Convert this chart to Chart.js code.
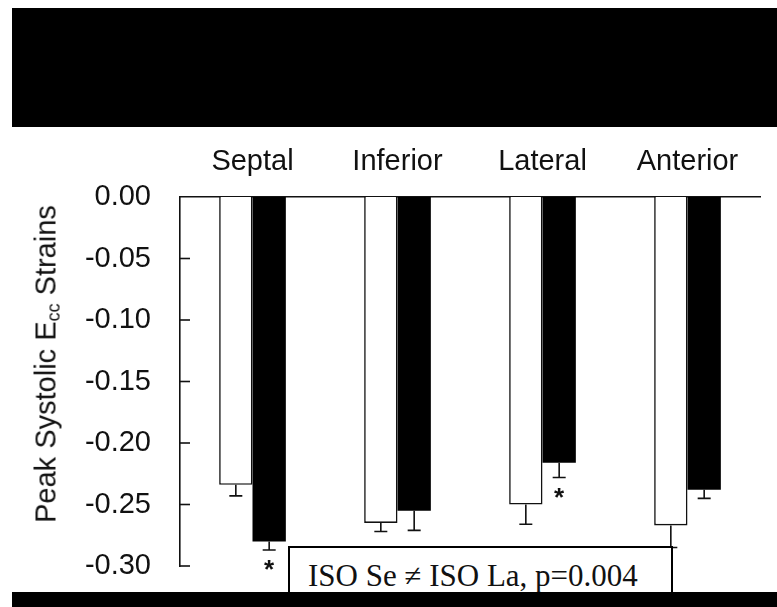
<!DOCTYPE html>
<html>
<head>
<meta charset="utf-8">
<script src="https://cdn.jsdelivr.net/npm/chart.js@4.4.1/dist/chart.umd.min.js"></script>
<style>
  html, body { margin: 0; padding: 0; background: #fff; }
  #wrap { position: relative; width: 777px; height: 607px; overflow: hidden; }
  #chart { position: absolute; left: 0; top: 0; }
  .band { position: absolute; background: #000; }
  #ytitle {
    position: absolute; left: 47px; top: 364px; white-space: nowrap;
    font: 29px "Liberation Sans", Arial, sans-serif; color: #111;
    transform: translate(-50%, -50%) rotate(-90deg);
  }
  #ytitle sub { font-size: 18px; vertical-align: -4px; }
  #note {
    position: absolute; left: 288px; top: 546px; width: 385px; height: 70px;
    background: #fff; border: 2px solid #000; box-sizing: border-box;
    font: 31px "Liberation Serif", "Times New Roman", serif; color: #111;
    padding: 10px 0 0 18px; white-space: nowrap;
  }
</style>
</head>
<body>
<div id="wrap">
  <canvas id="chart" width="777" height="607"></canvas>
  <div id="ytitle">Peak Systolic E<sub>cc</sub> Strains</div>
  <div id="note">ISO Se &ne; ISO La, p=0.004</div>
  <div class="band" style="left:12px;top:8px;width:765px;height:119px"></div>
  <div class="band" style="left:12px;top:592px;width:765px;height:15px"></div>
</div>
<script>
  // regions (top axis labels)
  const regions = ["Septal", "Inferior", "Lateral", "Anterior"];
  // open bars
  const controlMeans = [-0.234, -0.265, -0.250, -0.267];
  const controlErr = [0.009, 0.007, 0.016, 0.018];
  // filled bars
  const isoMeans = [-0.280, -0.255, -0.216, -0.238];
  const isoErr = [0.007, 0.016, 0.012, 0.007];
  const isoSig = ["*", "", "*", ""];
  const yTicks = [0.00, -0.05, -0.10, -0.15, -0.20, -0.25, -0.30];
  const yTickLabels = ["0.00", "-0.05", "-0.10", "-0.15", "-0.20", "-0.25", "-0.30"];

  const errors = [controlErr, isoErr];
  const marks = [[], isoSig];

  // error bars, asterisks and inward y ticks
  const extras = {
    id: "extras",
    afterDatasetsDraw(chart) {
      const ctx = chart.ctx;
      const y = chart.scales.y;
      ctx.save();
      ctx.strokeStyle = "#111";
      ctx.lineWidth = 1.6;
      chart.data.datasets.forEach((ds, di) => {
        const meta = chart.getDatasetMeta(di);
        meta.data.forEach((bar, i) => {
          const yEnd = y.getPixelForValue(ds.data[i] - errors[di][i]);
          ctx.beginPath();
          ctx.moveTo(bar.x, bar.y);
          ctx.lineTo(bar.x, yEnd);
          ctx.moveTo(bar.x - 6.5, yEnd);
          ctx.lineTo(bar.x + 6.5, yEnd);
          ctx.stroke();
          const m = marks[di][i];
          if (m) {
            ctx.fillStyle = "#111";
            ctx.font = "bold 26px 'Liberation Sans', Arial, sans-serif";
            ctx.textAlign = "center";
            ctx.textBaseline = "middle";
            ctx.fillText(m, bar.x, yEnd + 21);
          }
        });
      });
      const left = chart.chartArea.left;
      yTicks.forEach((v) => {
        if (v === 0) return;
        const py = y.getPixelForValue(v);
        ctx.beginPath();
        ctx.moveTo(left, py);
        ctx.lineTo(left + 10, py);
        ctx.stroke();
      });
      ctx.restore();
    }
  };

  const ctx = document.getElementById("chart").getContext("2d");
  const chart = new Chart(ctx, {
    type: "bar",
    data: {
      labels: regions,
      datasets: [
        {
          label: "Control",
          data: controlMeans,
          backgroundColor: "#fff",
          borderColor: "#111",
          borderWidth: 1.6,
          barPercentage: 1,
          categoryPercentage: 0.46,
        },
        {
          label: "ISO",
          data: isoMeans,
          backgroundColor: "#000",
          borderColor: "#000",
          borderWidth: 0,
          barPercentage: 1,
          categoryPercentage: 0.46,
        },
      ],
    },
    options: {
      responsive: false,
      animation: false,
      layout: { padding: { left: 0, top: 130, right: 17, bottom: 41 } },
      plugins: { legend: { display: false }, tooltip: { enabled: false } },
      scales: {
        x: {
          position: "top",
          grid: { display: false },
          border: { display: true, color: "#111", width: 1.6 },
          ticks: {
            color: "#111",
            padding: 10,
            font: { family: "'Liberation Sans', Arial, sans-serif", size: 29 },
          },
          afterFit(scale) { scale.height = 67; },
        },
        y: {
          min: -0.30,
          max: 0,
          grid: { display: false },
          border: { display: true, color: "#111", width: 1.6 },
          afterBuildTicks(scale) {
            scale.ticks = yTicks.map((v) => ({ value: v }));
          },
          ticks: {
            color: "#111",
            padding: 21,
            font: { family: "'Liberation Sans', Arial, sans-serif", size: 29 },
            callback: (v) => {
              const i = yTicks.findIndex((t) => Math.abs(t - v) < 1e-9);
              return i >= 0 ? yTickLabels[i] : "";
            },
          },
          afterFit(scale) { scale.width = 180; },
        },
      },
    },
    plugins: [extras],
  });
</script>
</body>
</html>
